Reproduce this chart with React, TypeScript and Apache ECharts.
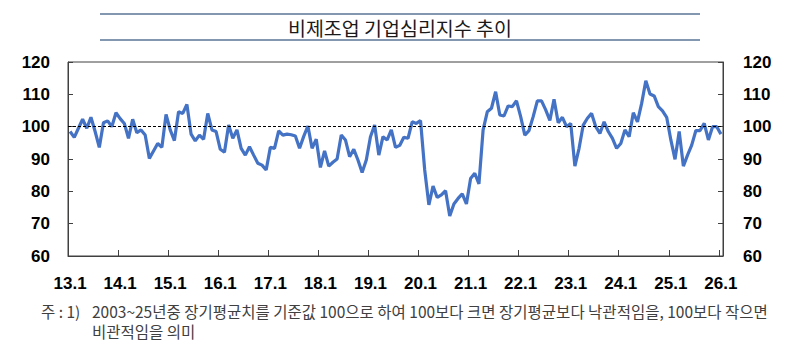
import React, { useEffect, useRef } from "react";
import * as echarts from "echarts";

const titleText = "비제조업 기업심리지수 추이";
const noteHead = "주 : 1)";
const noteLine1 = "2003~25년중 장기평균치를 기준값 100으로 하여 100보다 크면 장기평균보다 낙관적임을, 100보다 작으면";
const noteLine2 = "비관적임을 의미";

const tickLabels = ["13.1", "14.1", "15.1", "16.1", "17.1", "18.1", "19.1", "20.1", "21.1", "22.1", "23.1", "24.1", "25.1", "26.1"];
const yTicks = [60, 70, 80, 90, 100, 110, 120];
const referenceValue = 100;

// monthly values, Jan 2013 .. Jan 2026
const y2013 = [98.5, 96.7, 99.5, 102.3, 99.5, 102.9, 98.5, 93.6, 101.2, 101.8, 100, 104.3];
const y2014 = [102.5, 101, 96.4, 102.3, 98.1, 99, 97.4, 90.2, 92.5, 94.8, 93.6, 103.8];
const y2015 = [99, 95.7, 104.6, 104.1, 106.9, 97.7, 95.6, 97.4, 96.1, 104.1, 99, 98.5];
const y2016 = [93, 92.1, 100.5, 96.4, 99, 93.3, 91.2, 93.8, 91.2, 88.7, 88.1, 86.6];
const y2017 = [93.6, 93.3, 98.7, 97.4, 97.7, 97.5, 97.1, 93.3, 97, 100.2, 93.3, 96.1];
const y2018 = [87.4, 92.5, 87.8, 89, 90, 97.4, 95.9, 90.7, 93, 89.7, 85.8, 89.7];
const y2019 = [96.9, 100.5, 91.2, 96.9, 95.9, 99, 93.6, 94.2, 96.7, 96.4, 101.5, 101];
const y2020 = [101.9, 86.6, 75.8, 81.6, 78.1, 78.9, 80.2, 72.4, 76.1, 77.8, 79.2, 76.1];
const y2021 = [84, 85.6, 82.3, 99, 104.6, 105.7, 110.8, 103.6, 103.3, 106.4, 106.2, 108];
const y2022 = [103.1, 97.4, 98.8, 103.1, 108, 108, 105.2, 101.9, 108.5, 101.2, 102.9, 100];
const y2023 = [101, 87.8, 93.3, 100.5, 102.6, 104.1, 100, 97.9, 101.5, 98.5, 96.4, 93.3];
const y2024 = [94.8, 99, 96.9, 104.3, 101.5, 107.2, 114.2, 110.1, 109.5, 106.2, 104.9, 102.9];
const y2025 = [95.9, 89.9, 98.5, 87.8, 91.2, 94.3, 98.8, 98.8, 101, 95.9, 100, 100];
const y2026 = [97.7];

const yearBlocks = [y2013, y2014, y2015, y2016, y2017, y2018, y2019, y2020, y2021, y2022, y2023, y2024, y2025, y2026];

export default function App() {
  const ref = useRef<HTMLDivElement>(null);

  useEffect(() => {
    if (!ref.current) return;
    const chart = echarts.init(ref.current, undefined, { renderer: "svg" });

    const categories: string[] = [];
    const values: number[] = [];
    yearBlocks.forEach((block, yi) => {
      const yy = tickLabels[yi].split(".")[0];
      block.forEach((v, mi) => {
        categories.push(`${yy}.${mi + 1}`);
        values.push(v);
      });
    });

    const axisColor = "#404040";
    const labelFont = {
      color: "#000",
      fontWeight: "bold" as const,
      fontSize: 17,
      fontFamily: "Liberation Sans, Arial, sans-serif",
    };
    const noteFont = {
      fill: "#404040",
      fontSize: 15.5,
      fontFamily: "Noto Sans CJK KR, sans-serif",
      align: "left" as const,
      verticalAlign: "middle" as const,
    };

    chart.setOption({
      animation: false,
      grid: {
        left: 68,
        right: 77,
        top: 62,
        bottom: 96,
        show: true,
        borderColor: axisColor,
        borderWidth: 1,
        backgroundColor: "transparent",
      },
      xAxis: {
        type: "category",
        data: categories,
        boundaryGap: true,
        axisLine: { show: true, lineStyle: { color: axisColor, width: 1 } },
        axisTick: { show: true, inside: true, length: 6, interval: 11, lineStyle: { color: axisColor } },
        axisLabel: { ...labelFont, interval: 11, margin: 19 },
        splitLine: { show: false },
      },
      yAxis: [
        {
          type: "value",
          min: yTicks[0],
          max: yTicks[yTicks.length - 1],
          interval: 10,
          position: "left",
          axisLine: { show: true, lineStyle: { color: axisColor } },
          axisTick: { show: true, inside: true, length: 5, lineStyle: { color: axisColor } },
          axisLabel: { ...labelFont, margin: 18 },
          splitLine: { show: false },
        },
        {
          type: "value",
          min: yTicks[0],
          max: yTicks[yTicks.length - 1],
          interval: 10,
          position: "right",
          axisLine: { show: true, lineStyle: { color: axisColor } },
          axisTick: { show: true, inside: true, length: 5, lineStyle: { color: axisColor } },
          axisLabel: { ...labelFont, margin: 20 },
          splitLine: { show: false },
        },
      ],
      series: [
        {
          type: "line",
          data: values,
          yAxisIndex: 0,
          symbol: "none",
          lineStyle: { color: "#4472C4", width: 3.2 },
          itemStyle: { color: "#4472C4" },
          markLine: {
            silent: true,
            symbol: "none",
            label: { show: false },
            lineStyle: { color: "#000", width: 1, type: [3, 2] },
            data: [{ yAxis: referenceValue }],
          },
          z: 3,
        },
      ],
      graphic: [
        {
          type: "line",
          shape: { x1: 100, y1: 14, x2: 700, y2: 14 },
          style: { stroke: "#8497b0", lineWidth: 2 },
        },
        {
          type: "line",
          shape: { x1: 100, y1: 40, x2: 700, y2: 40 },
          style: { stroke: "#8497b0", lineWidth: 2 },
        },
        {
          type: "text",
          x: 400,
          y: 27,
          style: {
            text: titleText,
            fill: "#1a1a1a",
            fontSize: 19.5,
            fontFamily: "Noto Sans CJK KR, sans-serif",
            align: "center",
            verticalAlign: "middle",
          },
        },
        { type: "text", x: 41, y: 311, style: { ...noteFont, text: noteHead } },
        { type: "text", x: 92, y: 311, style: { ...noteFont, text: noteLine1 } },
        { type: "text", x: 92, y: 331, style: { ...noteFont, text: noteLine2 } },
      ],
    });

    return () => chart.dispose();
  }, []);

  return (
    <div
      ref={ref}
      style={{ position: "absolute", left: 0, top: 0, width: 800, height: 352, background: "#fff" }}
    />
  );
}
